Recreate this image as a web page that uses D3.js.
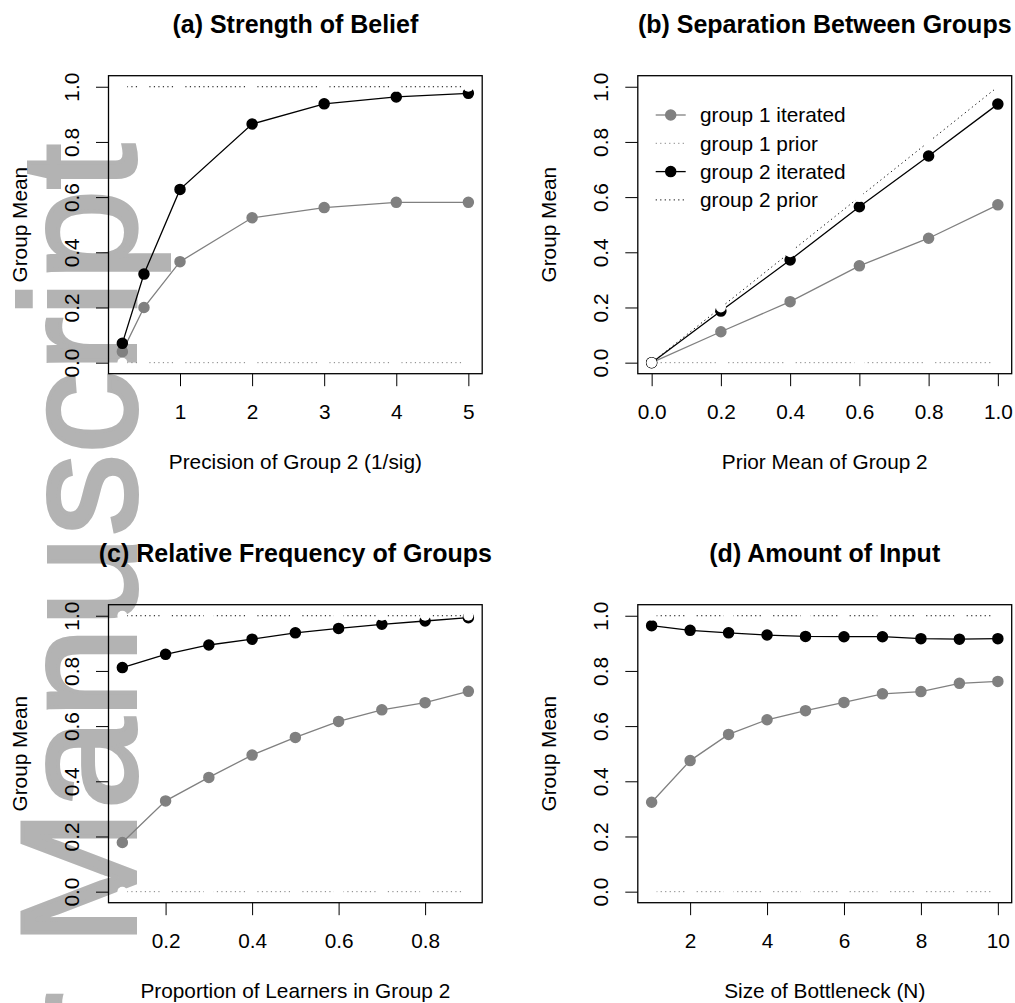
<!DOCTYPE html>
<html>
<head>
<meta charset="utf-8">
<script src="https://cdn.jsdelivr.net/npm/d3@7/dist/d3.min.js"></script>
<style>
  html, body { margin: 0; padding: 0; background: #fff; }
  svg { display: block; font-family: "Liberation Sans", Arial, Helvetica, sans-serif; }
</style>
</head>
<body>
<svg id="chart" width="1015" height="1003"></svg>
<script>
// ---------------- data ----------------
const yTicks = [0, 0.2, 0.4, 0.6, 0.8, 1.0];

// (a) Strength of Belief
const aTitle = "(a) Strength of Belief";
const aXLabel = "Precision of Group 2 (1/sig)";
const aX = [0.2, 0.5, 1, 2, 3, 4, 5];
const aG1 = [0.04, 0.20, 0.366, 0.525, 0.562, 0.581, 0.581];
const aG2 = [0.07, 0.321, 0.628, 0.865, 0.938, 0.963, 0.976];
const aP1 = [0, 0, 0, 0, 0, 0, 0];
const aP2 = [1, 1, 1, 1, 1, 1, 1];
const aTicks = [1, 2, 3, 4, 5];

// (b) Separation Between Groups
const bTitle = "(b) Separation Between Groups";
const bXLabel = "Prior Mean of Group 2";
const bX = [0, 0.2, 0.4, 0.6, 0.8, 1.0];
const bG1 = [0, 0.112, 0.221, 0.351, 0.451, 0.572];
const bG2 = [0, 0.187, 0.372, 0.565, 0.749, 0.937];
const bP1 = [0, 0, 0, 0, 0, 0];
const bP2 = [0, 0.2, 0.4, 0.6, 0.8, 1.0];
const bTicks = [0, 0.2, 0.4, 0.6, 0.8, 1.0];

// (c) Relative Frequency of Groups
const cTitle = "(c) Relative Frequency of Groups";
const cXLabel = "Proportion of Learners in Group 2";
const cX = [0.1, 0.2, 0.3, 0.4, 0.5, 0.6, 0.7, 0.8, 0.9];
const cG1 = [0.178, 0.329, 0.414, 0.495, 0.559, 0.617, 0.659, 0.685, 0.726];
const cG2 = [0.812, 0.860, 0.894, 0.915, 0.938, 0.954, 0.969, 0.981, 0.993];
const cP1 = [0, 0, 0, 0, 0, 0, 0, 0, 0];
const cP2 = [1, 1, 1, 1, 1, 1, 1, 1, 1];
const cTicks = [0.2, 0.4, 0.6, 0.8];

// (d) Amount of Input
const dTitle = "(d) Amount of Input";
const dXLabel = "Size of Bottleneck (N)";
const dX = [1, 2, 3, 4, 5, 6, 7, 8, 9, 10];
const dG1 = [0.324, 0.475, 0.570, 0.623, 0.656, 0.686, 0.717, 0.725, 0.755, 0.762];
const dG2 = [0.964, 0.947, 0.938, 0.930, 0.925, 0.924, 0.924, 0.917, 0.915, 0.917];
const dP1 = [0, 0, 0, 0, 0, 0, 0, 0, 0, 0];
const dP2 = [1, 1, 1, 1, 1, 1, 1, 1, 1, 1];
const dTicks = [2, 4, 6, 8, 10];

const yLabel = "Group Mean";
const legendLabels = ["group 1 iterated", "group 1 prior", "group 2 iterated", "group 2 prior"];
const watermarkMain = "Manuscript";
const watermarkPre = "Author";

// ---------------- drawing ----------------
const svg = d3.select("#chart");
const GRAY = "#808080";
const FS = 20.8;

// watermark (behind everything)
const wm = svg.append("g").attr("fill", "#b3b3b3")
  .attr("stroke", "#b3b3b3").attr("stroke-width", 4).attr("stroke-linejoin", "miter")
  .attr("font-family", "Liberation Sans").attr("font-weight", "normal").attr("font-size", 164);
wm.append("text").attr("transform", "translate(135,946) rotate(-90)")
  .attr("text-anchor", "start").text(watermarkMain);
wm.append("text").attr("transform", "translate(135,993) rotate(-90)")
  .attr("text-anchor", "end").text(watermarkPre);

function pad(ext) { const r = ext[1] - ext[0]; return [ext[0] - 0.04 * r, ext[1] + 0.04 * r]; }

function panel(cfg) {
  const { left, top, right, bottom } = cfg.box;
  const x = d3.scaleLinear().domain(pad(d3.extent(cfg.x))).range([left, right]);
  const y = d3.scaleLinear().domain(pad([0, 1])).range([bottom, top]);
  const g = svg.append("g");

  // title
  g.append("text").attr("x", (left + right) / 2).attr("y", top - 42.5)
    .attr("text-anchor", "middle").style("font-size", "25px").style("font-weight", "bold")
    .text(cfg.title);

  // axes
  const xa = g.append("g").attr("transform", `translate(0,${bottom})`)
    .call(d3.axisBottom(x).tickValues(cfg.ticks).tickSize(12.5).tickFormat(cfg.fmt));
  xa.select(".domain").remove();
  xa.selectAll("line").attr("stroke", "#000").attr("stroke-width", 1);
  xa.selectAll("text").attr("y", 45.5).attr("dy", null).attr("fill", "#000")
    .style("font-size", FS + "px").style("font-family", "'Liberation Sans', Arial, sans-serif");

  const ya = g.append("g").attr("transform", `translate(${left},0)`)
    .call(d3.axisLeft(y).tickValues(yTicks).tickSize(12.5).tickFormat(d3.format(".1f")));
  ya.select(".domain").remove();
  ya.selectAll("line").attr("stroke", "#000").attr("stroke-width", 1);
  ya.selectAll("text").attr("x", null).attr("dy", null).attr("fill", "#000")
    .attr("text-anchor", "middle").attr("transform", "translate(-29.5,0) rotate(-90)")
    .style("font-size", FS + "px").style("font-family", "'Liberation Sans', Arial, sans-serif");

  // axis titles
  g.append("text").attr("x", (left + right) / 2).attr("y", bottom + 95.5)
    .attr("text-anchor", "middle").style("font-size", FS + "px").text(cfg.xlabel);
  g.append("text").attr("transform", `translate(${left - 81.5},${(top + bottom) / 2}) rotate(-90)`)
    .attr("text-anchor", "middle").style("font-size", FS + "px").text(yLabel);

  // prior lines (dotted)
  const line = d3.line().x(d => x(d[0])).y(d => y(d[1]));
  const p1 = cfg.x.map((v, i) => [v, cfg.p1[i]]);
  const p2 = cfg.x.map((v, i) => [v, cfg.p2[i]]);
  const g1 = cfg.x.map((v, i) => [v, cfg.g1[i]]);
  const g2 = cfg.x.map((v, i) => [v, cfg.g2[i]]);
  g.append("path").attr("d", line(p1)).attr("fill", "none").attr("stroke", GRAY)
    .attr("stroke-width", 1).attr("stroke-dasharray", "1.2,3.3");
  g.append("path").attr("d", line(p2)).attr("fill", "none").attr("stroke", "#000")
    .attr("stroke-width", 1).attr("stroke-dasharray", "1.2,3.3");

  // iterated lines + points
  g.append("path").attr("d", line(g1)).attr("fill", "none").attr("stroke", GRAY).attr("stroke-width", 1.3);
  g.selectAll(null).data(g1).enter().append("circle")
    .attr("cx", d => x(d[0])).attr("cy", d => y(d[1])).attr("r", 5)
    .attr("fill", GRAY).attr("stroke", GRAY).attr("stroke-width", 1.5);
  g.append("path").attr("d", line(g2)).attr("fill", "none").attr("stroke", "#000").attr("stroke-width", 1.3);
  g.selectAll(null).data(g2).enter().append("circle")
    .attr("cx", d => x(d[0])).attr("cy", d => y(d[1])).attr("r", 5)
    .attr("fill", "#000").attr("stroke", "#000").attr("stroke-width", 1.5);

  // prior points (white)
  g.selectAll(null).data(p1.concat(p2)).enter().append("circle")
    .attr("cx", d => x(d[0])).attr("cy", d => y(d[1])).attr("r", 5).attr("fill", "#fff");

  // box
  g.append("rect").attr("x", left).attr("y", top).attr("width", right - left).attr("height", bottom - top)
    .attr("fill", "none").attr("stroke", "#000").attr("stroke-width", 1.3);

  return { x, y, g };
}

const fmtInt = d3.format("d");
const fmt1 = d3.format(".1f");

panel({ title: aTitle, xlabel: aXLabel, x: aX, g1: aG1, g2: aG2, p1: aP1, p2: aP2, ticks: aTicks, fmt: fmtInt,
  box: { left: 108.5, right: 482.2, top: 75.7, bottom: 373.7 } });
panel({ title: bTitle, xlabel: bXLabel, x: bX, g1: bG1, g2: bG2, p1: bP1, p2: bP2, ticks: bTicks, fmt: fmt1,
  box: { left: 637.8, right: 1011.7, top: 75.7, bottom: 373.7 } });
panel({ title: cTitle, xlabel: cXLabel, x: cX, g1: cG1, g2: cG2, p1: cP1, p2: cP2, ticks: cTicks, fmt: fmt1,
  box: { left: 108.5, right: 482.2, top: 604.7, bottom: 902.7 } });
panel({ title: dTitle, xlabel: dXLabel, x: dX, g1: dG1, g2: dG2, p1: dP1, p2: dP2, ticks: dTicks, fmt: fmtInt,
  box: { left: 637.8, right: 1011.7, top: 604.7, bottom: 902.7 } });

// legend in panel (b)
const leg = svg.append("g").attr("transform", "translate(655.7,115)");
const legStyles = [
  { color: GRAY, dash: null, pt: true },
  { color: GRAY, dash: "1.2,3.3", pt: false },
  { color: "#000", dash: null, pt: true },
  { color: "#000", dash: "1.2,3.3", pt: false }
];
legendLabels.forEach((lab, i) => {
  const s = legStyles[i];
  const row = leg.append("g").attr("transform", `translate(0,${i * 28.3})`);
  row.append("line").attr("x1", 0).attr("x2", 30).attr("y1", 0).attr("y2", 0)
    .attr("stroke", s.color).attr("stroke-width", s.dash ? 1 : 1.3)
    .attr("stroke-dasharray", s.dash);
  if (s.pt) row.append("circle").attr("cx", 15).attr("cy", 0).attr("r", 5)
    .attr("fill", s.color).attr("stroke", s.color).attr("stroke-width", 1.5);
  row.append("text").attr("x", 44.3).attr("y", 7.3).style("font-size", FS + "px").text(lab);
});
</script>
</body>
</html>
